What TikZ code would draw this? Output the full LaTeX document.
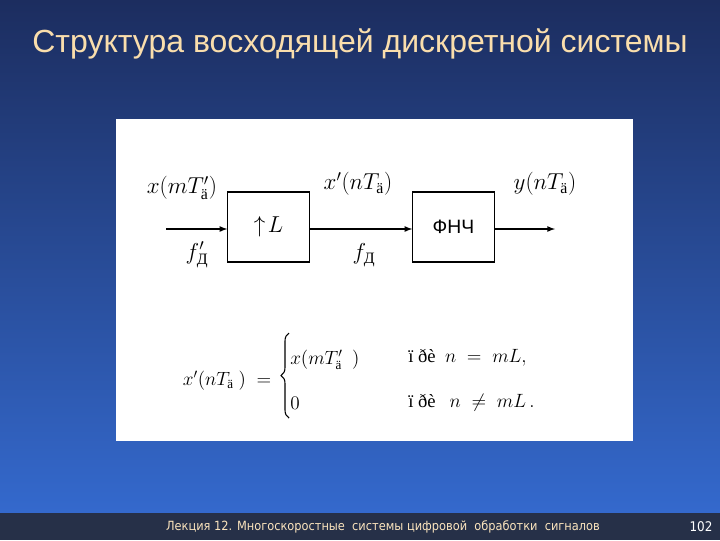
\documentclass[tikz,border=0pt]{standalone}
\usepackage{amsmath}
\usepackage{fontspec}
\usetikzlibrary{decorations.pathreplacing}
\setmainfont{Liberation Serif}
\newfontfamily\sansf{Liberation Sans}
\newfontfamily\dejas{DejaVu Sans Condensed}
\definecolor{topc}{RGB}{28,45,95}
\definecolor{botc}{RGB}{52,105,205}
\definecolor{titc}{RGB}{250,222,172}
\definecolor{footc}{RGB}{38,48,72}
\newcommand{\dd}{\text{\upshape ä}}
\newcommand{\cD}{\text{\upshape Д}}
\begin{document}
\begin{tikzpicture}[x=0.75pt,y=-0.75pt,
  blk/.style={draw,line width=0.8pt,minimum width=61pt,minimum height=52.5pt,inner sep=0pt},
  sig/.style={-latex,line width=1pt},
  lbl/.style={font=\fontsize{17}{17}\selectfont,inner sep=0pt}]
\useasboundingbox (0,0) rectangle (720,540);
\shade[top color=topc,bottom color=botc] (0,0) rectangle (720,513);
\fill[footc] (0,513) rectangle (720,540);
\node[text=titc,font=\sansf\fontsize{24}{24}\selectfont] (title) at (360,44) {Структура восходящей дискретной системы};
\node[text=titc!80!white,font=\dejas\fontsize{9.5}{10}\selectfont] (foot) at (383,527) {Лекция 12. Многоскоростные\ \ системы цифровой\ \ обработки\ \ сигналов};
\node[text=white,font=\dejas\fontsize{10}{10}\selectfont] (pg) at (701,527) {102};
\fill[white] (116,119) rectangle (633,441);
\node[blk,font=\fontsize{17}{17}\selectfont] (b1) at (268.5,227) {$\uparrow\! L$};
\node[blk,font=\sansf\fontsize{14.5}{14.5}\selectfont] (b2) at (453.5,227) {ФНЧ};
\coordinate (in) at (166,229);
\coordinate (out) at (555,229);
\draw[sig] (in) -- (b1.west|-in);
\draw[sig] (b1.east|-in) -- (b2.west|-in);
\draw[sig] (b2.east|-in) -- (out);
\node[lbl] (l1) at (182,188) {$x(mT'_{\dd})$};
\node[lbl] (l2) at (197,255) {$f'_{\cD}$};
\node[lbl] (l3) at (358,184) {$x'(nT_{\dd})$};
\node[lbl] (l4) at (364,255) {$f_{\cD}$};
\node[lbl] (l5) at (545,184) {$y(nT_{\dd})$};
\node[lbl,font=\fontsize{14}{14}\selectfont] (f0) at (227,381) {$x'(nT_{\dd}\ ) \;=$};
\coordinate (bt) at (289,333);
\coordinate (bb) at (289,418);
\draw[line width=0.8pt,decorate,decoration={brace,amplitude=6pt,mirror,raise=0pt}] (bt) -- (bb);
\node[lbl,font=\fontsize{14}{14}\selectfont,anchor=west] (f1) at (290,360) {$x(mT'_{\dd}\ \ )$};
\node[lbl,font=\fontsize{14}{14}\selectfont,anchor=west] (f2) at (290,403) {$0$};
\node[lbl,font=\fontsize{14}{14}\selectfont,anchor=west] (f3) at (408,358) {ï ðè\ \ $n\;=\;mL,$};
\node[lbl,font=\fontsize{14}{14}\selectfont,anchor=west] (f4) at (408,403) {ï ðè\ \ \ $n\;\neq\;mL\,.$};
\end{tikzpicture}
\end{document}
